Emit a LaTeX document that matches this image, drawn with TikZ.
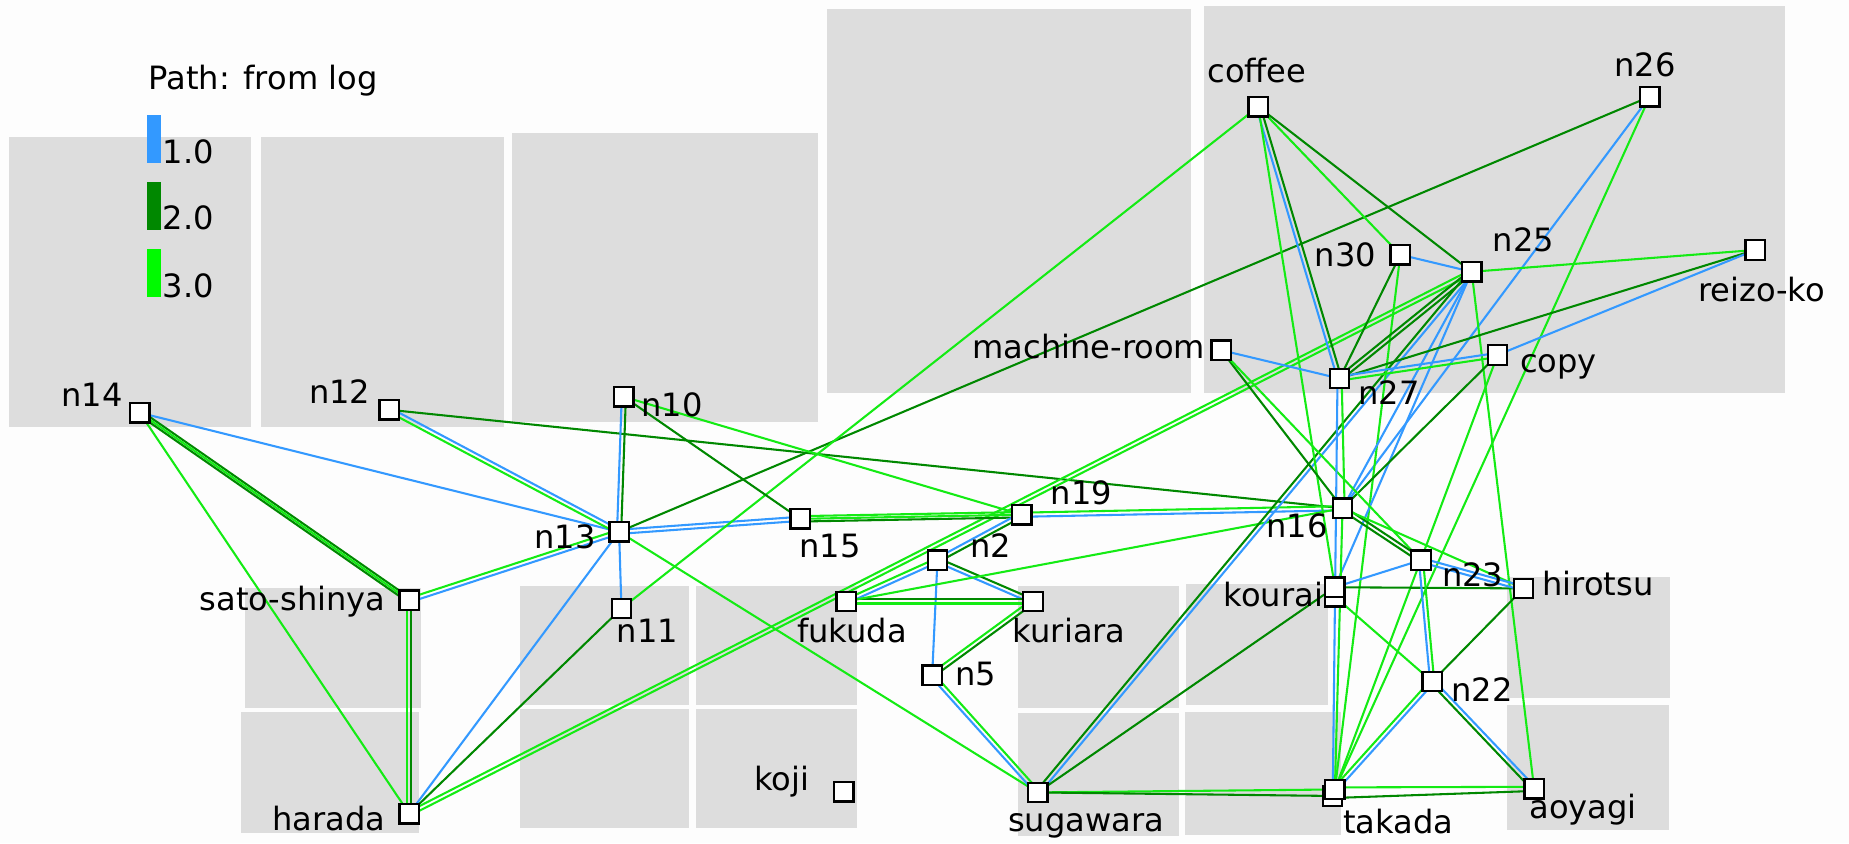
\documentclass[tikz,border=0pt]{standalone}
\usepackage{fontspec}
\setmainfont{DejaVu Sans}
\usetikzlibrary{calc}
\definecolor{pblue}{RGB}{51,153,255}
\definecolor{pdark}{RGB}{0,136,0}
\definecolor{plight}{RGB}{20,235,20}
\definecolor{barlight}{RGB}{0,250,0}
\definecolor{room}{RGB}{221,221,221}
\definecolor{paper}{RGB}{253,253,253}
\pgfdeclarelayer{rooms}
\pgfdeclarelayer{links}
\pgfsetlayers{rooms,links,main}
% straight link between two stations, shifted sideways by #1
\newcommand\plink[4][0pt]{\draw[#2] ($(#3.center)!#1!90:(#4.center)$) -- ($(#4.center)!#1!-90:(#3.center)$);}
\begin{document}
\begin{tikzpicture}[x=0.02cm,y=-0.02cm,
  stn/.style={draw=black,fill=white,line width=1.1pt,minimum size=0.33cm,inner sep=0pt,outer sep=0pt},
  lbl/.style={font=\fontsize{15.5}{18}\selectfont,inner sep=0pt,outer sep=0pt},
  eb/.style={pblue,line width=1pt},
  edg/.style={pdark,line width=1pt},
  elg/.style={plight,line width=1pt}]
\useasboundingbox (0,0) rectangle (1568,715);

% floor plan
\begin{pgfonlayer}{rooms}
\fill[paper] (0,0) rectangle (1568,715);
\fill[room] (8,116) rectangle (213,362);
\fill[room] (221,116) rectangle (427,362);
\fill[room] (434,113) rectangle (694,358);
\fill[room] (701,8) rectangle (1010,333);
\fill[room] (1021,5) rectangle (1514,333);
\fill[room] (208,499) rectangle (357,600);
\fill[room] (204,604) rectangle (355,706);
\fill[room] (441,497) rectangle (584,598);
\fill[room] (590,497) rectangle (727,598);
\fill[room] (441,601) rectangle (584,702);
\fill[room] (590,601) rectangle (727,702);
\fill[room] (863,497) rectangle (1000,600);
\fill[room] (863,605) rectangle (1000,709);
\fill[room] (1006,495) rectangle (1126,598);
\fill[room] (1005,604) rectangle (1137,708);
\fill[room] (1278,489) rectangle (1416,592);
\fill[room] (1278,598) rectangle (1415,704);
\end{pgfonlayer}

% legend
\node[lbl,anchor=base west] (legend) at (126,76) {Path: from log};
\fill[pblue] (125,97.5) rectangle (136.5,138.6);
\fill[pdark] (125,154) rectangle (136.5,195);
\fill[barlight] (125,211) rectangle (136.5,252);
\node[lbl,anchor=base west] (leg1) at (138,139) {1.0};
\node[lbl,anchor=base west] (leg2) at (138,195) {2.0};
\node[lbl,anchor=base west] (leg3) at (138,252) {3.0};

% stations
\node[stn] (n14) at (118.5,350) {};
\node[stn] (n12) at (330,347.5) {};
\node[stn] (n10) at (529,336.5) {};
\node[stn] (n13) at (525,451) {};
\node[stn] (n15) at (678.5,440) {};
\node[stn] (n19) at (866.5,436.5) {};
\node[stn] (n2) at (795,475) {};
\node[stn] (fukuda) at (717.5,510) {};
\node[stn] (kuriara) at (876,510) {};
\node[stn] (n5) at (790.5,572.5) {};
\node[stn] (n11) at (527,516) {};
\node[stn] (sato) at (347,509) {};
\node[stn] (harada) at (347,690) {};
\node[stn] (koji) at (715.5,671.5) {};
\node[stn] (sugawara) at (880,672) {};
\node[stn] (coffee) at (1067,90.5) {};
\node[stn] (n26) at (1399,82) {};
\node[stn] (n30) at (1187.5,216) {};
\node[stn] (n25) at (1248,230.5) {};
\node[stn] (reizo) at (1488.5,212) {};
\node[stn] (mroom) at (1035.6,297) {};
\node[stn] (n27) at (1136,321) {};
\node[stn] (copy) at (1270,301) {};
\node[stn] (n16) at (1138.5,431) {};
\node[stn] (n23) at (1205,475) {};
\node[stn] (hirotsu) at (1292,499) {};
\node[stn] (kourai2) at (1132,506) {};
\node[stn] (kourai) at (1132,498) {};
\node[stn] (n22) at (1214.5,578) {};
\node[stn] (takada2) at (1130,675) {};
\node[stn] (takada) at (1132,669.5) {};
\node[stn] (aoyagi) at (1301,669) {};

% station names
\node[lbl,anchor=base east] (t-n14) at (104,345) {n14};
\node[lbl,anchor=base east] (t-n12) at (314,342) {n12};
\node[lbl,anchor=base west] (t-n10) at (544,353) {n10};
\node[lbl,anchor=base east] (t-n13) at (505,465) {n13};
\node[lbl,anchor=base west] (t-n15) at (678,473) {n15};
\node[lbl,anchor=base west] (t-n19) at (891,428) {n19};
\node[lbl,anchor=base west] (t-n2) at (823,473) {n2};
\node[lbl,anchor=base west] (t-fukuda) at (676,545) {fukuda};
\node[lbl,anchor=base west] (t-kuriara) at (859,545) {kuriara};
\node[lbl,anchor=base west] (t-n5) at (810,581) {n5};
\node[lbl,anchor=base west] (t-n11) at (523,545) {n11};
\node[lbl,anchor=base east] (t-sato) at (327,518) {sato-shinya};
\node[lbl,anchor=base east] (t-harada) at (327,704) {harada};
\node[lbl,anchor=base east] (t-koji) at (686,670) {koji};
\node[lbl,anchor=base west] (t-sugawara) at (855,705) {sugawara};
\node[lbl,anchor=base west] (t-coffee) at (1024,70) {coffee};
\node[lbl,anchor=base west] (t-n26) at (1369,65) {n26};
\node[lbl,anchor=base east] (t-n30) at (1167,226) {n30};
\node[lbl,anchor=base west] (t-n25) at (1266,213) {n25};
\node[lbl,anchor=base west] (t-reizo) at (1440,256) {reizo-ko};
\node[lbl,anchor=base east] (t-mroom) at (1022,304) {machine-room};
\node[lbl,anchor=base west] (t-n27) at (1152,343) {n27};
\node[lbl,anchor=base west] (t-copy) at (1289,316) {copy};
\node[lbl,anchor=base east] (t-n16) at (1126,456) {n16};
\node[lbl,anchor=base west] (t-n23) at (1223,497) {n23};
\node[lbl,anchor=base west] (t-hirotsu) at (1308,505) {hirotsu};
\node[lbl,anchor=base east] (t-kourai) at (1122,514) {kourai};
\node[lbl,anchor=base west] (t-n22) at (1231,595) {n22};
\node[lbl,anchor=base west] (t-takada) at (1139,707) {takada};
\node[lbl,anchor=base west] (t-aoyagi) at (1297,694) {aoyagi};

% paths
\begin{pgfonlayer}{links}
\plink{eb}{n14}{n13}
\plink[1.1pt]{edg}{n14}{sato}
\plink{elg}{n14}{sato}
\plink[-1.1pt]{edg}{n14}{sato}
\plink{elg}{n14}{harada}
\plink[1pt]{eb}{n12}{n13}
\plink[-1pt]{elg}{n12}{n13}
\plink{edg}{n12}{n16}
\plink[1pt]{elg}{sato}{n13}
\plink[-1pt]{eb}{sato}{n13}
\plink[1pt]{edg}{sato}{harada}
\plink[-1pt]{elg}{sato}{harada}
\plink{eb}{harada}{n13}
\plink{edg}{harada}{n11}
\plink[1pt]{elg}{harada}{n25}
\plink[-1pt]{elg}{harada}{n25}
\plink[1pt]{edg}{n10}{n13}
\plink[-1pt]{eb}{n10}{n13}
\plink{eb}{n13}{n11}
\plink[1pt]{eb}{n13}{n15}
\plink[-1pt]{eb}{n13}{n15}
\plink{edg}{n13}{n26}
\plink{elg}{n13}{sugawara}
\plink{elg}{n11}{coffee}
\plink{edg}{n10}{n15}
\plink{elg}{n10}{n19}
\plink[1.3pt]{elg}{n15}{n19}
\plink{elg}{n15}{n19}
\plink[-1.3pt]{edg}{n15}{n19}
\plink[1pt]{elg}{n19}{n16}
\plink[-1pt]{eb}{n19}{n16}
\plink[1pt]{edg}{n19}{n2}
\plink[-1pt]{eb}{n19}{n2}
\plink[1pt]{eb}{n2}{fukuda}
\plink[-1pt]{elg}{n2}{fukuda}
\plink[1pt]{edg}{n2}{kuriara}
\plink[-1pt]{eb}{n2}{kuriara}
\plink{eb}{n2}{n5}
\plink[1pt]{edg}{fukuda}{kuriara}
\plink[-1pt]{elg}{fukuda}{kuriara}
\plink{elg}{fukuda}{n16}
\plink[1pt]{edg}{kuriara}{n5}
\plink[-1pt]{elg}{kuriara}{n5}
\plink[1pt]{elg}{n5}{sugawara}
\plink[-1pt]{eb}{n5}{sugawara}
\plink[1pt]{edg}{sugawara}{n25}
\plink[-1pt]{eb}{sugawara}{n25}
\plink{edg}{sugawara}{kourai}
\plink{elg}{sugawara}{takada}
\plink{edg}{sugawara}{takada2}
\plink[1pt]{edg}{coffee}{n27}
\plink[-1pt]{eb}{coffee}{n27}
\plink{elg}{coffee}{kourai}
\plink{elg}{coffee}{n30}
\plink{edg}{coffee}{n25}
\plink{eb}{n26}{n16}
\plink{elg}{n26}{takada}
\plink{eb}{n30}{n25}
\plink{edg}{n30}{n27}
\plink{elg}{n30}{takada}
\plink{elg}{n25}{reizo}
\plink[1pt]{edg}{n25}{n27}
\plink[-1pt]{edg}{n25}{n27}
\plink{eb}{n25}{n16}
\plink{eb}{n25}{kourai}
\plink{elg}{n25}{aoyagi}
\plink{edg}{reizo}{n27}
\plink{eb}{reizo}{copy}
\plink[1pt]{elg}{copy}{n27}
\plink[-1pt]{eb}{copy}{n27}
\plink{edg}{copy}{n16}
\plink{elg}{copy}{takada}
\plink{eb}{mroom}{n27}
\plink{edg}{mroom}{n16}
\plink{elg}{mroom}{n23}
\plink[1pt]{elg}{n27}{n16}
\plink[-1pt]{eb}{n27}{takada}
\plink[1pt]{edg}{n16}{n23}
\plink[-1pt]{edg}{n16}{n23}
\plink{elg}{n16}{hirotsu}
\plink{elg}{n16}{takada}
\plink{eb}{kourai}{n23}
\plink{edg}{kourai}{hirotsu}
\plink{elg}{kourai2}{n22}
\plink[1pt]{eb}{n23}{hirotsu}
\plink[-1pt]{eb}{n23}{hirotsu}
\plink[1pt]{elg}{n23}{n22}
\plink[-1pt]{eb}{n23}{n22}
\plink{edg}{hirotsu}{n22}
\plink[1pt]{eb}{n22}{takada}
\plink[-1pt]{elg}{n22}{takada}
\plink[1pt]{eb}{n22}{aoyagi}
\plink[-1pt]{edg}{n22}{aoyagi}
\plink[1pt]{elg}{takada}{aoyagi}
\plink[-1pt]{edg}{takada2}{aoyagi}
\end{pgfonlayer}
\end{tikzpicture}
\end{document}
